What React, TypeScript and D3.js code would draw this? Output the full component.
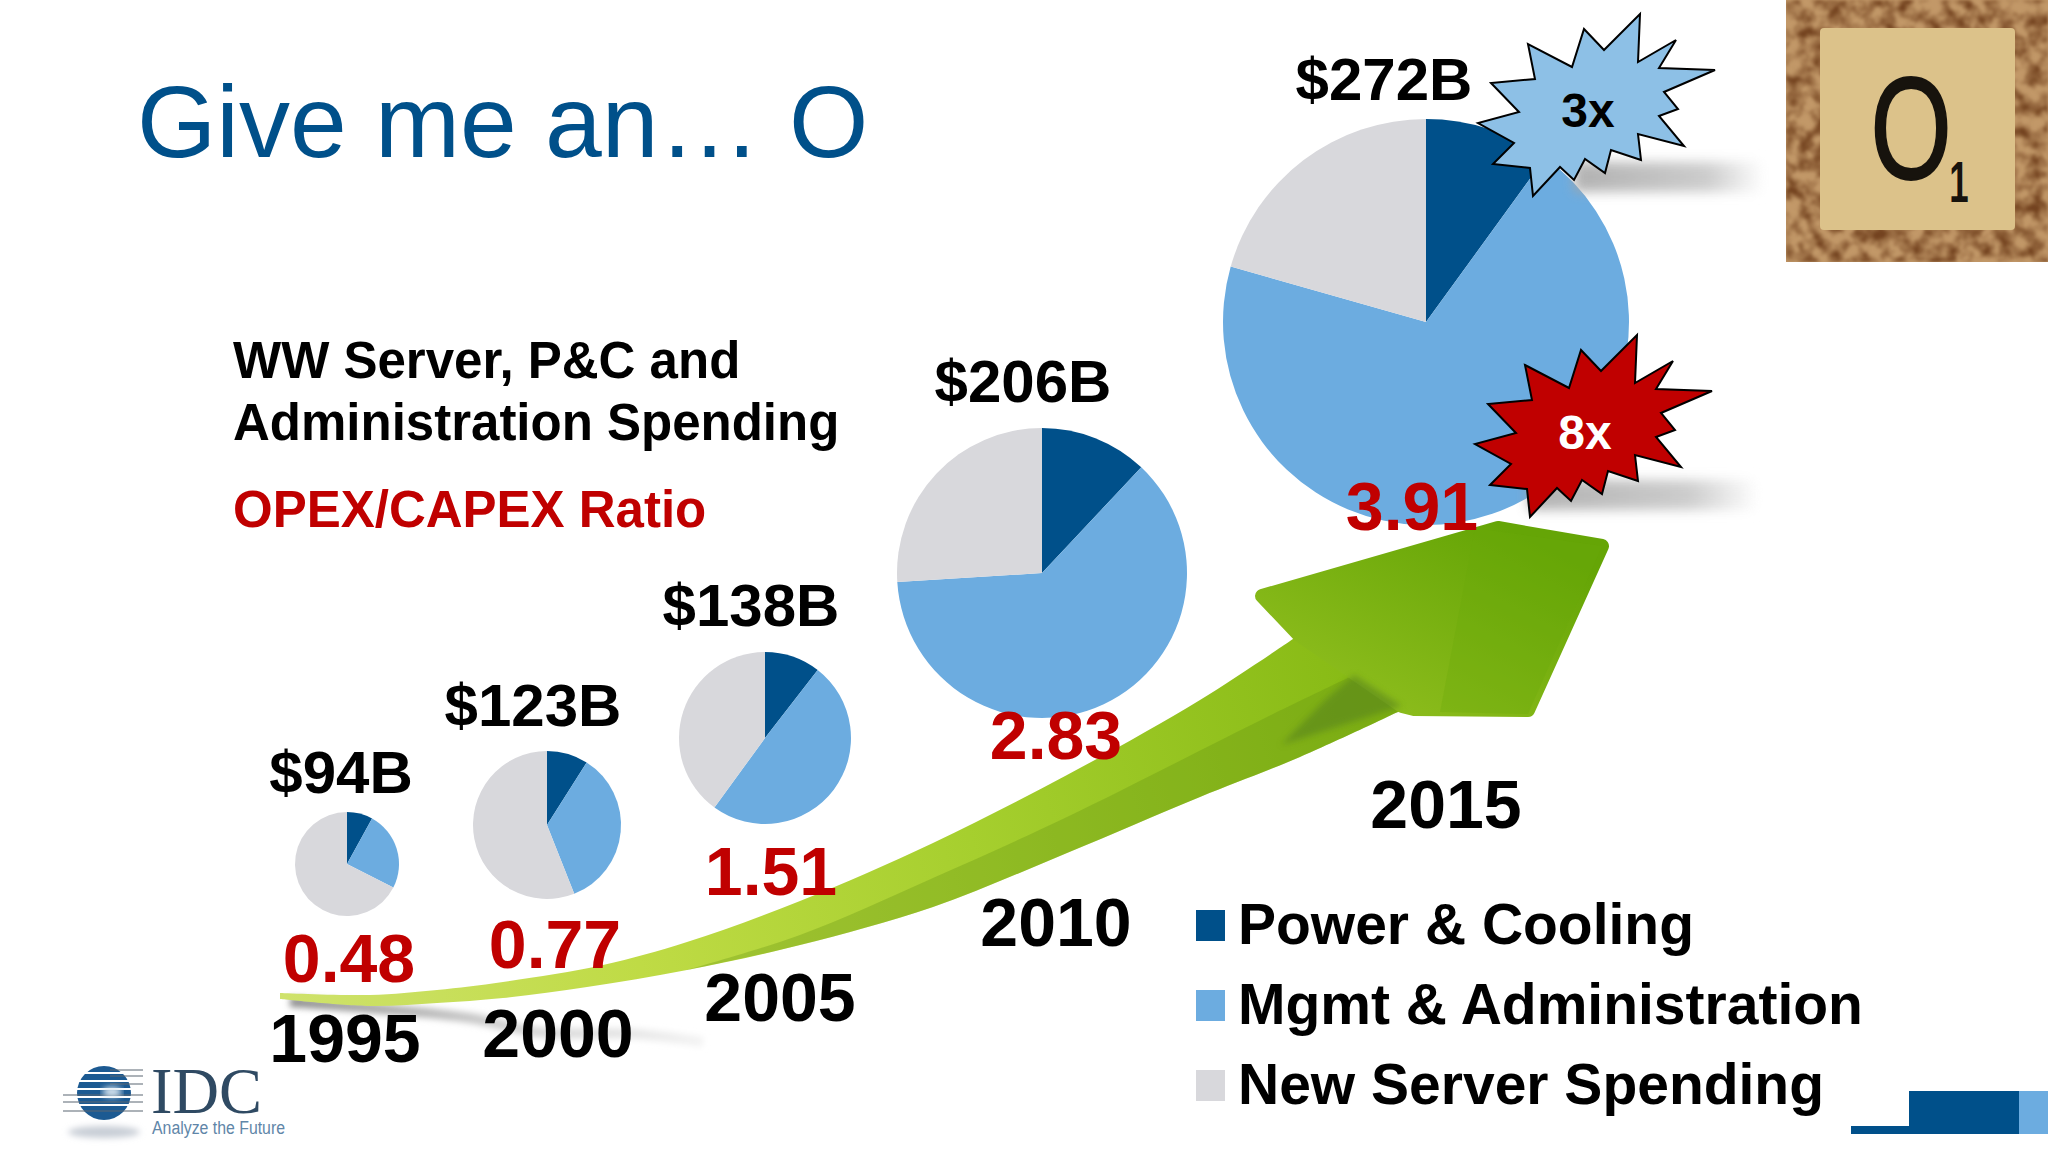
import * as d3 from "d3";

const years = ["1995", "2000", "2005", "2010", "2015"];
const totals = [94, 123, 138, 206, 272];
const ratios = [0.48, 0.77, 1.51, 2.83, 3.91];
const seriesNames = ["Power & Cooling", "Mgmt & Administration", "New Server Spending"];
// share of each year's spending, percent
const powerCooling = [8, 9, 10.5, 12, 10];
const mgmtAdmin = [24.5, 35, 49.5, 62, 69.4];
const newServer = [67.5, 56, 40, 26, 20.6];

const colors = d3.scaleOrdinal<string, string>(seriesNames, ["#00508a", "#6cace0", "#d8d8dc"]);
const font = "'Liberation Sans', Arial, sans-serif";
const red = "#c00000";

// the slide places everything by hand, so these are ordinal layouts per year
const pieX = d3.scaleOrdinal<string, number>(years, [347, 547, 765, 1042, 1426]);
const pieY = d3.scaleOrdinal<string, number>(years, [864, 825, 738, 573, 322]);
const radius = d3.scaleLinear().domain(totals).range([52, 74, 86, 145, 203]);
const totalLabelX = d3.scaleOrdinal<string, number>(years, [341, 533, 751, 1023, 1384]);
const totalLabelY = d3.scaleOrdinal<string, number>(years, [793, 726, 626, 402, 100]);
const ratioX = d3.scaleOrdinal<string, number>(years, [349, 555, 771, 1056, 1412]);
const ratioY = d3.scaleOrdinal<string, number>(years, [982, 968, 895, 759, 530]);
const yearX = d3.scaleOrdinal<string, number>(years, [345, 558, 780, 1056, 1446]);
const yearY = d3.scaleOrdinal<string, number>(years, [1062, 1057, 1021, 946, 828]);
const legendY = d3.scalePoint<string>().domain(seriesNames).range([926, 1086]);

const pie = d3.pie<number>().sort(null).startAngle(0).endAngle(2 * Math.PI);

const burst: [number, number][] = [
  [51, -96], [49, -48], [87, -70], [70, -42], [126, -40], [75, -18], [89, -1], [70, 6],
  [95, 36], [49, 24], [52, 50], [22, 40], [16, 63], [-4, 49], [-15, 70], [-29, 57],
  [-56, 86], [-59, 58], [-96, 54], [-75, 33], [-111, 13], [-70, 2], [-98, -27], [-54, -31],
  [-61, -66], [-17, -43], [-5, -81], [15, -60],
];
const burstPath = d3.line().curve(d3.curveLinearClosed)(burst) ?? "";

const arrowUpper: [number, number][] = [
  [280, 993], [370, 995], [437, 990], [503, 982], [603, 965], [687, 942], [800, 901],
  [933, 843], [1067, 775], [1200, 700], [1299, 635],
];
const arrowLower: [number, number][] = [
  [1402, 710], [1300, 757], [1200, 797], [1067, 853], [933, 907], [800, 945], [687, 970],
  [587, 987], [503, 998], [437, 1003], [370, 1006], [280, 999],
];
const facetEdge: [number, number][] = [
  [1354, 675], [1267, 717], [1067, 817], [933, 878], [800, 935], [687, 970],
];
const arrowHead: [number, number][] = [
  [1299, 635], [1262, 596], [1498, 528], [1602, 546], [1528, 710], [1414, 709], [1402, 706],
];
const headFacet: [number, number][] = [[1475, 528], [1602, 546], [1528, 714], [1440, 712]];
const notchShade: [number, number][] = [[1354, 675], [1402, 706], [1281, 745], [1325, 700]];
const curved = d3.line().curve(d3.curveCatmullRom);
const straight = d3.line();
const shaftPath = `${curved(arrowUpper)}L${(curved(arrowLower) ?? "").slice(1)}Z`;
const facetPath = `${curved(facetEdge)}L${(curved(arrowLower.slice(0, 7).reverse()) ?? "").slice(1)}Z`;
const headPath = `${straight(arrowHead)}Z`;

const tailShadow: [number, number][] = [[290, 1002], [370, 1008], [470, 1018], [537, 1032], [637, 1034], [703, 1042]];
const globeGaps = [1073, 1081, 1089, 1097, 1105];
const logoLines = [1070, 1076, 1084, 1095, 1102, 1111];

const App = () => {
  return (
    <svg
      width={2048}
      height={1152}
      viewBox="0 0 2048 1152"
      style={{ position: "absolute", left: 0, top: 0, display: "block", background: "#fff" }}
      fontFamily={font}
    >
      <defs>
        <linearGradient id="arrowFill" gradientUnits="userSpaceOnUse" x1={281} y1={1000} x2={1400} y2={640}>
          <stop offset="0" stopColor="#cfe26c" />
          <stop offset="0.3" stopColor="#bfdb45" />
          <stop offset="0.6" stopColor="#a6cf2e" />
          <stop offset="1" stopColor="#84b812" />
        </linearGradient>
        <linearGradient id="headFill" gradientUnits="userSpaceOnUse" x1={1500} y1={525} x2={1400} y2={720}>
          <stop offset="0" stopColor="#65a506" />
          <stop offset="1" stopColor="#8cbc1c" />
        </linearGradient>
        <linearGradient id="burstShadow" x1="0" x2="1" y1="0" y2="0">
          <stop offset="0" stopColor="#a4a4a4" />
          <stop offset="0.7" stopColor="#c4c4c4" />
          <stop offset="1" stopColor="#fff" />
        </linearGradient>
        <linearGradient id="tailFade" gradientUnits="userSpaceOnUse" x1={290} y1={0} x2={705} y2={0}>
          <stop offset="0" stopColor="#8f8f8f" />
          <stop offset="0.5" stopColor="#cfcfcf" />
          <stop offset="1" stopColor="#f4f4f4" />
        </linearGradient>
        <filter id="soft" x="-20%" y="-80%" width="140%" height="260%">
          <feGaussianBlur stdDeviation="6" />
        </filter>
        <filter id="softLine" x="-10%" y="-100%" width="120%" height="300%">
          <feGaussianBlur stdDeviation="3" />
        </filter>
        <filter id="cork" x="0" y="0" width="100%" height="100%" colorInterpolationFilters="sRGB">
          <feTurbulence type="fractalNoise" baseFrequency="0.07" numOctaves={3} seed={7} />
          <feColorMatrix type="matrix" values="0 0 0 0 0.45  0 0 0 0 0.26  0 0 0 0 0.12  2.4 0 0 0 -0.85" />
          <feGaussianBlur stdDeviation="1.5" />
        </filter>
      </defs>

      <text x={137} y={157} fontSize={102} fill={colors(seriesNames[0])}>
        Give me an… O
      </text>

      <text x={233} y={378} fontSize={51} fontWeight="bold">WW Server, P&amp;C and</text>
      <text x={233} y={440} fontSize={51} fontWeight="bold">Administration Spending</text>
      <text x={233} y={527} fontSize={51} fontWeight="bold" fill={red}>OPEX/CAPEX Ratio</text>

      {/* scrabble tile */}
      <rect x={1786} y={0} width={262} height={262} fill="#c29868" />
      <rect x={1786} y={0} width={262} height={262} fill="#fff" filter="url(#cork)" />
      <rect x={1820} y={28} width={195} height={202} rx={4} fill="#dcc28a" />
      <text transform="translate(1911,179) scale(0.72,1)" textAnchor="middle" fontSize={145} fill="#17130d" stroke="#17130d" strokeWidth={2}>O</text>
      <text transform="translate(1959,202) scale(0.6,1)" textAnchor="middle" fontSize={58} fontWeight="bold" fill="#17130d">1</text>

      {/* shadow of the arrow tail */}
      <path d={curved(tailShadow) ?? ""} fill="none" stroke="url(#tailFade)" strokeWidth={10} filter="url(#softLine)" />

      {years.map((year, i) => {
        const slices = pie([powerCooling[i], mgmtAdmin[i], newServer[i]]);
        const arc = d3.arc<d3.PieArcDatum<number>>().innerRadius(0).outerRadius(radius(totals[i]));
        return (
          <g key={year} transform={`translate(${pieX(year)},${pieY(year)})`}>
            {slices.map((s, j) => (
              <path key={j} d={arc(s) ?? ""} fill={colors(seriesNames[j])} />
            ))}
          </g>
        );
      })}

      <path d={shaftPath} fill="url(#arrowFill)" />
      <path d={facetPath} fill="#5f9010" opacity={0.3} />
      <path d={headPath} fill="url(#headFill)" stroke="url(#headFill)" strokeWidth={14} strokeLinejoin="round" />
      <path d={`${straight(headFacet)}Z`} fill="#6aa80a" opacity={0.3} />
      <path d={`${straight(notchShade)}Z`} fill="#55801a" opacity={0.55} filter="url(#softLine)" />

      {/* burst shadows */}
      <rect x={1574} y={162} width={190} height={30} fill="url(#burstShadow)" filter="url(#soft)" opacity={0.85} />
      <rect x={1528} y={480} width={230} height={30} fill="url(#burstShadow)" filter="url(#soft)" opacity={0.85} />

      <path d={burstPath} transform="translate(1589,110)" fill="#8dc0e6" stroke="#000" strokeWidth={2} />
      <text x={1588} y={127} textAnchor="middle" fontSize={48} fontWeight="bold">3x</text>
      <path d={burstPath} transform="translate(1586,431)" fill={red} stroke="#000" strokeWidth={2} />
      <text x={1585} y={449} textAnchor="middle" fontSize={48} fontWeight="bold" fill="#fff">8x</text>

      {years.map((year, i) => (
        <g key={year} textAnchor="middle" fontWeight="bold">
          <text x={totalLabelX(year)} y={totalLabelY(year)} fontSize={60}>{`$${totals[i]}B`}</text>
          <text x={ratioX(year)} y={ratioY(year)} fontSize={68} fill={red}>{ratios[i].toFixed(2)}</text>
          <text x={yearX(year)} y={yearY(year)} fontSize={68}>{year}</text>
        </g>
      ))}

      {seriesNames.map((name) => (
        <g key={name} transform={`translate(0,${legendY(name)})`}>
          <rect x={1196} y={-16} width={29} height={31} fill={colors(name)} />
          <text x={1238} y={18} fontSize={57} fontWeight="bold">{name}</text>
        </g>
      ))}

      {/* IDC logo */}
      <ellipse cx={104} cy={1132} rx={36} ry={6} fill="#c8ced6" filter="url(#softLine)" />
      <circle cx={104} cy={1093} r={27} fill="#1c5a92" />
      {globeGaps.map((y) => (
        <line key={y} x1={70} x2={138} y1={y} y2={y} stroke="#fff" strokeWidth={2} />
      ))}
      {logoLines.map((y) => (
        <line key={y} x1={y < 1090 ? 110 : 63} x2={143} y1={y} y2={y} stroke="#5b6672" strokeWidth={1.2} />
      ))}
      <ellipse cx={112} cy={1092} rx={10} ry={5} fill="#dfeaf3" filter="url(#softLine)" />
      <text x={151} y={1113} fontFamily="'Liberation Serif', serif" fontSize={66} fill="#2f4a63" textLength={111} lengthAdjust="spacingAndGlyphs">IDC</text>
      <text x={152} y={1134} fontSize={18} fill="#5f86a8" textLength={133} lengthAdjust="spacingAndGlyphs">Analyze the Future</text>

      {/* corner decoration */}
      <rect x={1851} y={1126} width={58} height={8} fill={colors(seriesNames[0])} />
      <rect x={1909} y={1091} width={110} height={43} fill={colors(seriesNames[0])} />
      <rect x={2019} y={1091} width={29} height={43} fill={colors(seriesNames[1])} />
    </svg>
  );
};

export default App;
